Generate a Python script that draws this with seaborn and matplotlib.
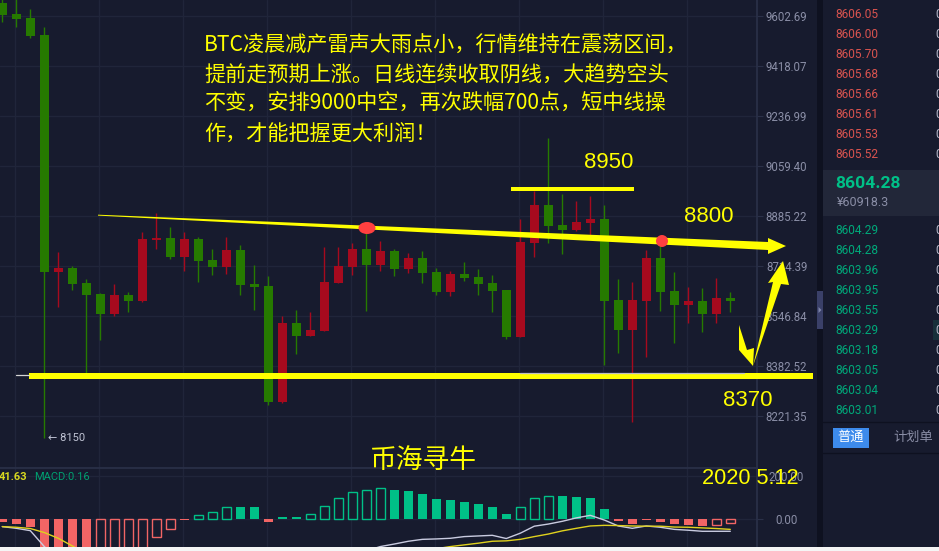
import matplotlib
matplotlib.use("Agg")
import matplotlib.pyplot as plt
from matplotlib.patches import Ellipse, Polygon, Rectangle
from matplotlib.ticker import NullLocator
import numpy as np
import pandas as pd
import seaborn as sns

# K线数据
opens = [9653, 9610, 9595, 9532, 8694, 8708, 8657, 8621, 8553, 8617, 8597, 8803, 8810, 8745, 8807, 8735, 8711, 8769,
         8654, 8647, 8267, 8524, 8481, 8498, 8657, 8711, 8772, 8718, 8765, 8704, 8742, 8694, 8627, 8688, 8678, 8657,
         8634, 8478, 8793, 8923, 8854, 8837, 8861, 8875, 8601, 8501, 8597, 8742, 8631, 8584, 8597, 8553, 8607]
closes = [9606, 9592, 9529, 8694, 8708, 8654, 8617, 8553, 8617, 8597, 8807, 8810, 8745, 8807, 8731, 8711, 8769, 8651,
          8644, 8267, 8524, 8481, 8501, 8661, 8714, 8772, 8718, 8765, 8704, 8742, 8691, 8627, 8688, 8674, 8654, 8631,
          8478, 8796, 8923, 8851, 8837, 8865, 8875, 8597, 8501, 8601, 8742, 8627, 8584, 8597, 8553, 8607, 8597]
highs = [9668, 9680, 9629, 9562, 8762, 8714, 8671, 8624, 8654, 8627, 8831, 8896, 8848, 8831, 8813, 8772, 8813, 8786,
         8718, 8681, 8547, 8567, 8560, 8779, 8779, 8793, 8827, 8800, 8772, 8759, 8765, 8708, 8698, 8728, 8704, 8684,
         8634, 8875, 8972, 9159, 8962, 8937, 8955, 8923, 8671, 8661, 8769, 8793, 8694, 8644, 8641, 8674, 8627]
lows = [9581, 9562, 9521, 8150, 8577, 8634, 8360, 8468, 8547, 8560, 8594, 8772, 8738, 8698, 8661, 8684, 8688, 8617,
        8567, 8257, 8263, 8422, 8481, 8498, 8657, 8684, 8564, 8698, 8681, 8691, 8657, 8617, 8614, 8664, 8617, 8560,
        8471, 8478, 8745, 8793, 8755, 8834, 8820, 8386, 8425, 8202, 8412, 8564, 8458, 8524, 8494, 8524, 8560]

# MACD数据
macd_hist = [-13, -24, -36, -150, -150, -150, -150, -150, -150, -150, -150, -83, -45, -6, 17, 31, 55, 56, 56, -13, 8,
             8, 22, 60, 97, 125, 135, 144, 136, 132, 118, 94, 89, 80, 71, 56, 24, 55, 97, 107, 108, 103, 99, 47, -9,
             -24, -7, -14, -24, -28, -33, -28, -17]
hist_hollow = [7, 8, 9, 10, 11, 12, 14, 15, 16, 22, 23, 24, 25, 26, 27, 37, 38, 39, 51, 52]
dif_line = [-36, -44, -55, -130, -190, -250, -300, -330, -340, -345, -335, -320, -310, -300, -290, -280, -270, -260,
            -250, -245, -240, -230, -220, -200, -180, -165, -150, -130, -118, -105, -96, -94, -91, -83, -80, -77, -92,
            -67, -34, -24, -11, 5, 17, -5, -33, -44, -33, -39, -49, -53, -58, -58, -58]
dea_line = [-36, -39, -45, -64, -91, -127, -165, -200, -230, -255, -270, -285, -290, -295, -290, -285, -280, -270,
            -260, -255, -245, -240, -235, -225, -215, -205, -195, -185, -175, -165, -155, -140, -130, -122, -114, -105,
            -103, -96, -83, -71, -56, -44, -33, -30, -31, -33, -34, -34, -38, -39, -42, -45, -49]

price_ticks = [9602.69, 9418.07, 9236.99, 9059.40, 8885.22, 8714.39, 8546.84, 8382.52, 8221.35]
macd_ticks = [0, 200]

# 盘口
asks = ["8606.05", "8606.00", "8605.70", "8605.68", "8605.66", "8605.61", "8605.53", "8605.52"]
bids = ["8604.29", "8604.28", "8603.96", "8603.95", "8603.55", "8603.29", "8603.18", "8603.05", "8603.04", "8603.01"]

note_lines = [
    "BTC凌晨减产雷声大雨点小，行情维持在震荡区间，",
    "提前走预期上涨。日线连续收取阴线，大趋势空头",
    "不变，安排9000中空，再次跌幅700点，短中线操",
    "作，才能把握更大利润！",
]

BG = "#171b2e"
GRID = "#20253a"
BORDER = "#2a3048"
AXIS_TEXT = "#8a8ea6"
UP = "#a60a1e"
DOWN = "#267a00"
HIST_UP = "#00c087"
HIST_DOWN = "#f26565"
ASK = "#d9534f"
BID = "#00a97a"
YELLOW = "#ffff00"
WIDTH, HEIGHT = 939, 551

sns.set_theme(style="darkgrid", rc={
    "figure.facecolor": BG,
    "axes.facecolor": BG,
    "axes.edgecolor": BORDER,
    "grid.color": GRID,
    "grid.linewidth": 1.0,
})
plt.rcParams["font.family"] = ["Roboto", "Noto Sans CJK SC", "DejaVu Sans"]

fig = plt.figure(figsize=(WIDTH / 100, HEIGHT / 100), dpi=100)
ax = fig.add_axes([0, (HEIGHT - 468) / HEIGHT, 757 / WIDTH, 468 / HEIGHT])
ax_macd = fig.add_axes([0, (HEIGHT - 547) / HEIGHT, 757 / WIDTH, 79 / HEIGHT])
over = fig.add_axes([0, 0, 1, 1], facecolor="none")

idx = np.arange(len(opens))
xlim = (-2.3 / 14, (757 - 2.3) / 14)
grid_x = np.arange(1, len(opens) + 2, 6) - 0.06


def style_axis(a, ticks, labels):
    a.set_xlim(*xlim)
    a.set_xticks(grid_x)
    a.set_xticklabels([])
    a.set_xlabel("")
    a.set_ylabel("")
    a.xaxis.set_minor_locator(NullLocator())
    a.yaxis.set_minor_locator(NullLocator())
    a.set_yticks(ticks)
    a.set_yticklabels(labels, ha="center", fontsize=8.3, color=AXIS_TEXT)
    a.yaxis.tick_right()
    a.tick_params(axis="x", length=0)
    a.tick_params(axis="y", length=4.3, width=0.8, color=BORDER, pad=17)
    a.set_axisbelow(True)
    for side in ["top", "left", "bottom"]:
        a.spines[side].set_visible(False)
    a.spines["right"].set_color(BORDER)


# K线
colors = [UP if c >= o else DOWN for o, c in zip(opens, closes)]
ax.set_yscale("log")
ax.vlines(idx, lows, highs, colors=colors, linewidth=1.0, zorder=2)
body_low = np.minimum(opens, closes)
body_high = np.maximum(opens, closes)
ax.bar(idx, body_high - body_low, bottom=body_low, width=0.64, color=colors, linewidth=0, zorder=3)
ax.set_ylim(8057, 9662.6)
style_axis(ax, price_ticks, [f"{p:.2f}" for p in price_ticks])

# MACD
macd_df = pd.DataFrame({"idx": idx, "hist": macd_hist, "dif": dif_line, "dea": dea_line})
sns.barplot(data=macd_df, x="idx", y="hist", native_scale=True, width=0.64, color=HIST_UP, saturation=1,
            ax=ax_macd, zorder=2)
for i, patch in enumerate(ax_macd.patches):
    col = HIST_UP if macd_hist[i] > 0 else HIST_DOWN
    if i in hist_hollow:
        patch.set_facecolor(BG)
        patch.set_edgecolor(col)
        patch.set_linewidth(1.0)
    else:
        patch.set_facecolor(col)
        patch.set_edgecolor(col)
        patch.set_linewidth(0)
sns.lineplot(data=macd_df, x="idx", y="dif", color="#c9cbe0", linewidth=1.0, estimator=None, ax=ax_macd, zorder=4)
sns.lineplot(data=macd_df, x="idx", y="dea", color="#e0d21e", linewidth=1.0, estimator=None, ax=ax_macd, zorder=5)
ax_macd.set_ylim(-132, 240)
style_axis(ax_macd, macd_ticks, ["0.00", "200.00"])
ax_macd.spines["top"].set_visible(True)
ax_macd.spines["top"].set_color(BORDER)

# 覆盖层，像素坐标
over.set_xlim(0, WIDTH)
over.set_ylim(HEIGHT, 0)
over.axis("off")

over.add_patch(Rectangle((817, 0), 6, 547, color="#0e1120", lw=0))
over.add_patch(Rectangle((817, 291), 6, 38, color="#3a4068", lw=0))
over.add_patch(Polygon([(818.5, 307), (818.5, 313), (821.5, 310)], color="#7c83a8", lw=0))
over.add_patch(Rectangle((0, 547), WIDTH, 4, color="#f5f5f5", lw=0))
over.add_patch(Rectangle((823, 170), 116, 46, color="#222739", lw=0))
over.add_patch(Rectangle((933, 320), 6, 20, color="#17303a", lw=0))
over.plot([823, 939], [422, 422], color="#0e1120", lw=1)
over.plot([823, 939], [453, 453], color="#0e1120", lw=1)

for k, price in enumerate(asks):
    over.text(835, 14.7 + 20 * k, price, color=ASK, fontsize=8.6, va="center")
    over.text(935, 14.7 + 20 * k, "0", color="#b8bbcc", fontsize=8.6, va="center")
for k, price in enumerate(bids):
    over.text(835, 230.7 + 20 * k, price, color=BID, fontsize=8.6, va="center")
    over.text(935, 230.7 + 20 * k, "0", color="#b8bbcc", fontsize=8.6, va="center")
over.text(835, 183, "8604.28", color="#00c087", fontsize=12.6, fontweight="bold", va="center")
over.text(837, 203, "¥60918.3", color=AXIS_TEXT, fontsize=9, va="center")

over.add_patch(Rectangle((833, 428), 36, 20, color="#3d8bec", lw=0))
over.text(851, 437.5, "普通", color="white", fontsize=9.5, ha="center", va="center", family="Noto Sans CJK SC")
over.text(913.5, 437.5, "计划单", color=AXIS_TEXT, fontsize=9.5, ha="center", va="center", family="Noto Sans CJK SC")

over.text(48, 438, "← 8150", color="#c0c4d4", fontsize=8, va="center", family=["Roboto", "DejaVu Sans"])
over.text(-1, 477, "41.63", color="#d8d820", fontsize=8, fontweight="bold", va="center")
over.text(34, 477, "MACD:0.16", color="#00a070", fontsize=8, va="center")

# 手绘标注
over.plot([16, 29], [375, 375], color="#d5d5d5", lw=0.9)
over.plot([520, 744], [372.5, 372.5], color="#bdbdc4", lw=0.9)
over.add_patch(Rectangle((29, 373), 784, 6, color=YELLOW, lw=0))
over.add_patch(Rectangle((511, 187), 123, 4, color=YELLOW, lw=0))
over.add_patch(Polygon([(98, 214.7), (768, 242), (768, 238), (786, 246), (768, 254), (768, 250), (98, 215.6)],
                       color=YELLOW, lw=0))
over.add_patch(Polygon([(753, 366), (773, 282), (768, 283), (783, 261), (789, 285), (781, 284)], color=YELLOW, lw=0))
over.add_patch(Polygon([(739, 325), (747, 350), (754, 348), (753, 366), (739, 350)], color=YELLOW, lw=0))
over.add_patch(Ellipse((367, 228), 17, 12, color="#ff4040", lw=0))
over.add_patch(Ellipse((662, 241), 12, 12, color="#ff4040", lw=0))

for k, line in enumerate(note_lines):
    over.text(204, [46, 76, 104, 134][k], line, color=YELLOW, fontsize=15.2, va="center",
              family="Noto Sans CJK SC")
for label, x, y in [("8950", 609, 163), ("8800", 709, 216), ("8370", 748, 401)]:
    over.text(x, y, label, color=YELLOW, fontsize=16, ha="center", va="center", family="Liberation Sans")
over.text(423, 460.5, "币海寻牛", color=YELLOW, fontsize=19.3, ha="center", va="center", family="Noto Sans CJK SC")
over.text(750.5, 479, "2020 5.12", color=YELLOW, fontsize=15.7, ha="center", va="center", family="Liberation Sans")

fig.savefig("out.png", dpi=100, facecolor=BG)
